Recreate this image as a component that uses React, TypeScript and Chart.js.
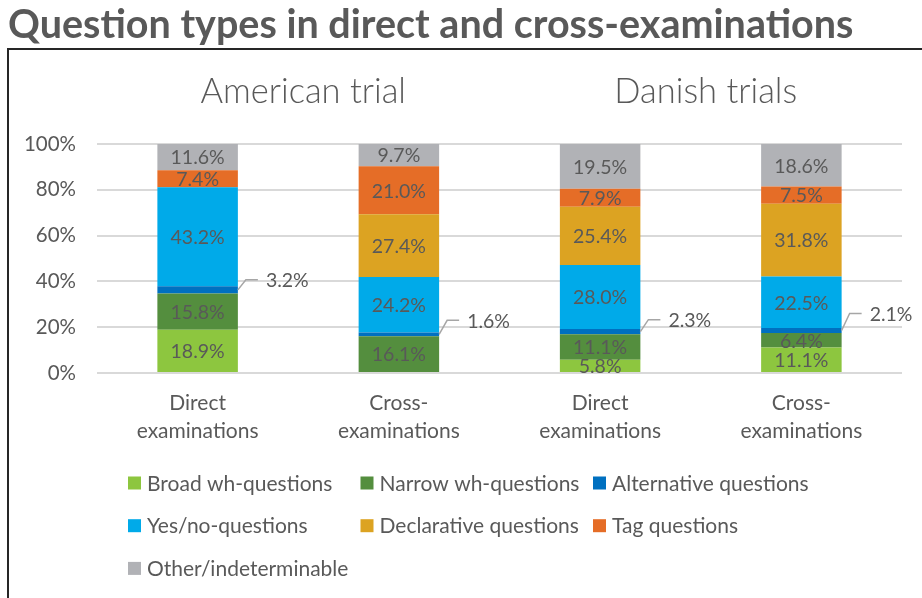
import React, { useEffect, useRef } from "react";
import { Chart, registerables } from "chart.js";

Chart.register(...registerables);

const TITLE = "Question types in direct and cross-examinations";
const GROUPS = ["American trial", "Danish trials"];
const CATEGORIES = [
  ["Direct", "examinations"],
  ["Cross-", "examinations"],
  ["Direct", "examinations"],
  ["Cross-", "examinations"],
];
const SERIES_NAMES = [
  "Broad wh-questions",
  "Narrow wh-questions",
  "Alternative questions",
  "Yes/no-questions",
  "Declarative questions",
  "Tag questions",
  "Other/indeterminable",
];
const BROAD = [18.9, 0, 5.8, 11.1];
const NARROW = [15.8, 16.1, 11.1, 6.4];
const ALTERNATIVE = [3.2, 1.6, 2.3, 2.1];
const YESNO = [43.2, 24.2, 28.0, 22.5];
const DECLARATIVE = [0, 27.4, 25.4, 31.8];
const TAG = [7.4, 21.0, 7.9, 7.5];
const OTHER = [11.6, 9.7, 19.5, 18.6];
const Y_MIN = 0;
const Y_MAX = 100;
const Y_STEP = 20;

const COLORS = ["#8dc63f", "#548e3e", "#0070c0", "#00aae9", "#dca322", "#e56d27", "#b1b2b6"];
const FONT = "Lato, 'Open Sans', sans-serif";
const TEXT = "#595959";

const decorPlugin = {
  id: "decor",
  afterDatasetsDraw(chart: any, _args: any, opts: any) {
    const ctx = chart.ctx;
    ctx.save();
    chart.data.datasets.forEach((ds: any, di: number) => {
      const meta = chart.getDatasetMeta(di);
      meta.data.forEach((el: any, i: number) => {
        const v = ds.data[i];
        if (!v) return;
        const p = el.getProps(["x", "y", "base", "width"], true);
        const mid = (p.y + p.base) / 2;
        const label = v.toFixed(1) + "%";
        ctx.fillStyle = TEXT;
        ctx.font = `19.5px ${FONT}`;
        ctx.textBaseline = "middle";
        if (di === opts.calloutDataset) {
          const x0 = p.x + p.width / 2;
          const dy = opts.calloutDy[i];
          const ly = mid - dy;
          ctx.strokeStyle = "#a6a6a6";
          ctx.lineWidth = 1.5;
          ctx.beginPath();
          ctx.moveTo(x0, mid);
          ctx.lineTo(x0 + 8, ly);
          ctx.lineTo(x0 + 20, ly);
          ctx.stroke();
          ctx.textAlign = "left";
          ctx.fillText(label, x0 + 28, ly + 1);
        } else {
          ctx.textAlign = "center";
          ctx.fillText(label, p.x, mid + 1);
        }
      });
    });
    ctx.restore();
  },
  afterDraw(chart: any) {
    const ctx = chart.ctx;
    const xs = chart.scales.x;
    ctx.save();
    // main title
    ctx.fillStyle = TEXT;
    ctx.textAlign = "left";
    ctx.textBaseline = "alphabetic";
    ctx.font = `bold 39.5px ${FONT}`;
    ctx.fillText(TITLE, 8, 38);
    // group titles
    ctx.font = `300 34.5px ${FONT}`;
    ctx.textAlign = "center";
    ctx.textBaseline = "middle";
    GROUPS.forEach((g, gi) => {
      const cx = (xs.getPixelForValue(gi * 2) + xs.getPixelForValue(gi * 2 + 1)) / 2 + 5;
      ctx.fillText(g, cx, 92);
    });
    // legend
    ctx.font = `21px ${FONT}`;
    ctx.textAlign = "left";
    ctx.textBaseline = "middle";
    SERIES_NAMES.forEach((name, i) => {
      const col = i % 3;
      const row = Math.floor(i / 3);
      const bx = 128 + col * 232.5;
      const by = 483 + row * 42.7;
      ctx.fillStyle = COLORS[i];
      ctx.fillRect(bx, by - 6.5, 13, 13);
      ctx.fillStyle = TEXT;
      ctx.fillText(name, bx + 19, by + 1);
    });
    ctx.restore();
  },
};

export default function App() {
  const ref = useRef<HTMLCanvasElement | null>(null);
  useEffect(() => {
    if (!ref.current) return;
    const series = [BROAD, NARROW, ALTERNATIVE, YESNO, DECLARATIVE, TAG, OTHER];
    const chart = new Chart(ref.current, {
      type: "bar",
      data: {
        labels: CATEGORIES,
        datasets: series.map((d, i) => ({
          label: SERIES_NAMES[i],
          data: d,
          backgroundColor: COLORS[i],
          borderWidth: 0,
          categoryPercentage: 1,
          barPercentage: 0.4,
        })),
      },
      options: {
        responsive: false,
        animation: false,
        devicePixelRatio: 1,
        layout: { padding: { top: 144, right: 20, left: 0, bottom: 0 } },
        plugins: {
          legend: { display: false },
          tooltip: { enabled: false },
          title: { display: false },
          decor: { calloutDataset: 2, calloutDy: [10, 14, 12, 17] },
        } as any,
        scales: {
          x: {
            stacked: true,
            grid: { display: false, drawTicks: false },
            border: { display: false },
            ticks: {
              color: TEXT,
              font: { family: FONT, size: 21, lineHeight: 1.35 },
              padding: 16,
              maxRotation: 0,
              autoSkip: false,
            },
            afterFit(scale: any) {
              scale.height = 225;
            },
          },
          y: {
            stacked: true,
            min: Y_MIN,
            max: Y_MAX,
            grid: { color: "#d9d9d9", lineWidth: 2, drawTicks: false },
            border: { display: false },
            ticks: {
              stepSize: Y_STEP,
              color: TEXT,
              font: { family: FONT, size: 20.5 },
              padding: 21,
              callback: (v: any) => v + "%",
            },
            afterFit(scale: any) {
              scale.width = 97;
            },
          },
        },
      },
      plugins: [decorPlugin],
    });
    return () => chart.destroy();
  }, []);

  return (
    <div
      style={{
        position: "absolute",
        left: 0,
        top: 0,
        width: 922,
        height: 598,
        overflow: "hidden",
        background: "#ffffff",
      }}
    >
      <div
        style={{
          position: "absolute",
          left: 7,
          top: 48,
          width: 1000,
          height: 1000,
          borderLeft: "2px solid #262626",
          borderTop: "2px solid #262626",
        }}
      />
      <canvas
        ref={ref}
        width={922}
        height={598}
        style={{ position: "absolute", left: 0, top: 0, width: 922, height: 598 }}
      />
    </div>
  );
}
